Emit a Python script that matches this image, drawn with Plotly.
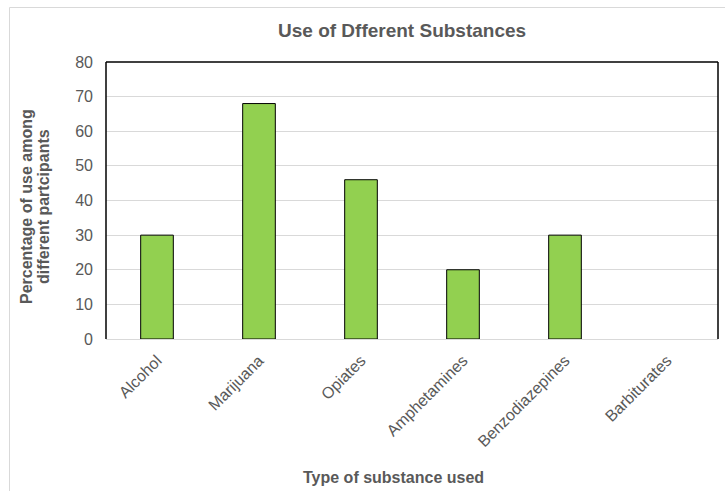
import plotly.graph_objects as go

categories = ["Alcohol", "Marijuana", "Opiates", "Amphetamines", "Benzodiazepines", "Barbiturates"]
values = [30, 68, 46, 20, 30, 0]
y_ticks = [0, 10, 20, 30, 40, 50, 60, 70, 80]

W, H = 725, 491
L, R, T, B = 106, 7, 62, 152
pw, ph = W - L - R, H - T - B

def px_to_paper_x(px):
    return (px - L) / pw

def px_to_paper_y(py):
    return (H - B - py) / ph

font_family = "Liberation Sans, Arial, sans-serif"
grey = "#595959"

# No outline on empty bars so a zero value leaves no stray stroke
outline_widths = [1 if v > 0 else 0 for v in values]

fig = go.Figure(
    go.Bar(
        x=categories,
        y=values,
        width=0.32,
        marker=dict(color="#92D050", line=dict(color="#000000", width=outline_widths)),
    )
)

fig.update_layout(
    width=W,
    height=H,
    autosize=False,
    margin=dict(l=L, r=R, t=T, b=B),
    paper_bgcolor="white",
    plot_bgcolor="white",
    showlegend=False,
    font=dict(family=font_family, color=grey, size=12),
)

fig.update_xaxes(
    tickangle=-45,
    tickfont=dict(size=16, color=grey),
    showgrid=False,
    showline=True,
    linecolor="#D9D9D9",
    linewidth=1,
    ticks="",
    ticklabelstandoff=5,
)
fig.update_yaxes(
    range=[0, 80],
    tickvals=y_ticks,
    tickfont=dict(size=16, color=grey),
    showgrid=True,
    gridcolor="#D9D9D9",
    gridwidth=1,
    zeroline=False,
    ticks="",
    ticklabelstandoff=12,
)

# Black frame on the top, left and right of the plot area
for x0, y0, x1, y1 in [(0, 1, 1, 1), (0, 0, 0, 1), (1, 0, 1, 1)]:
    fig.add_shape(type="line", xref="paper", yref="paper", x0=x0, y0=y0, x1=x1, y1=y1,
                  line=dict(color="#000000", width=1.5))

# Light outer chart border
fig.add_shape(type="rect", xref="paper", yref="paper",
              x0=px_to_paper_x(9.5), y0=px_to_paper_y(500), x1=px_to_paper_x(740), y1=px_to_paper_y(7.5),
              line=dict(color="#D9D9D9", width=1), layer="below")

fig.add_annotation(
    text="<b>Use of Dfferent Substances</b>",
    xref="paper", yref="paper", x=px_to_paper_x(402), y=px_to_paper_y(31),
    showarrow=False, font=dict(size=19, color=grey), xanchor="center", yanchor="middle",
)
fig.add_annotation(
    text="<b>Type of substance used</b>",
    xref="paper", yref="paper", x=px_to_paper_x(393), y=px_to_paper_y(477),
    showarrow=False, font=dict(size=16, color=grey), xanchor="center", yanchor="middle",
)
# Two-line vertical axis title, lines set close together
for line_text, cx in [("Percentage of use among", 26), ("different partcipants", 43)]:
    fig.add_annotation(
        text=f"<b>{line_text}</b>",
        xref="paper", yref="paper", x=px_to_paper_x(cx), y=px_to_paper_y(207),
        showarrow=False, textangle=-90, font=dict(size=16, color=grey),
        xanchor="center", yanchor="middle",
    )

fig.write_html("out.html")
